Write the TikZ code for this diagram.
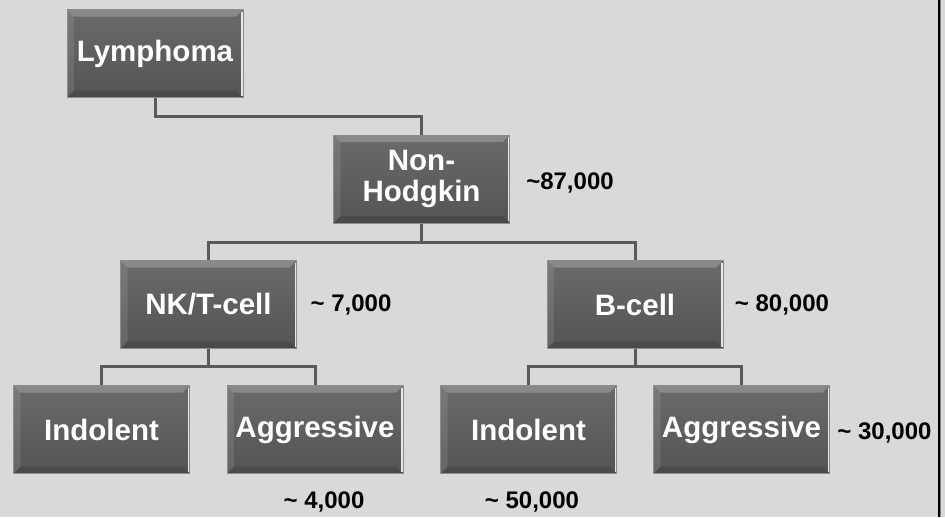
\documentclass[tikz,border=0pt]{standalone}
\usepackage{fontspec}
\setmainfont{Liberation Sans}
\definecolor{bg}{HTML}{D9D9D9}
\definecolor{boxtop}{HTML}{6A6A6A}
\definecolor{boxbot}{HTML}{545454}
\definecolor{boxedge}{HTML}{8C8C8C}
\definecolor{conn}{HTML}{5A5A5A}
\tikzset{
  box/.style={rectangle, minimum width=176pt, minimum height=88pt, inner sep=0pt,
    top color=boxtop, bottom color=boxbot, draw=boxedge, line width=1pt,
    text=white, font=\bfseries\fontsize{29.5}{31}\selectfont, align=center,
    path picture={
      \fill[white,opacity=0.22] (path picture bounding box.north west) -- (path picture bounding box.north east)
        -- ([xshift=-7pt,yshift=-7pt]path picture bounding box.north east) -- ([xshift=7pt,yshift=-7pt]path picture bounding box.north west) -- cycle;
      \fill[white,opacity=0.10] (path picture bounding box.north west) -- ([xshift=7pt,yshift=-7pt]path picture bounding box.north west)
        -- ([xshift=7pt,yshift=7pt]path picture bounding box.south west) -- (path picture bounding box.south west) -- cycle;
      \fill[black,opacity=0.12] (path picture bounding box.south west) -- ([xshift=7pt,yshift=7pt]path picture bounding box.south west)
        -- ([xshift=-7pt,yshift=7pt]path picture bounding box.south east) -- (path picture bounding box.south east) -- cycle;
      \draw[white,line width=1.6pt,opacity=0.85] ([xshift=-1pt,yshift=-2pt]path picture bounding box.north east) -- ([xshift=-1pt,yshift=2pt]path picture bounding box.south east);
    }},
  num/.style={font=\bfseries\fontsize{24}{26}\selectfont, text=black, inner sep=0pt},
  link/.style={draw=conn, line width=3pt}
}
\begin{document}
\begin{tikzpicture}[x=1pt,y=-1pt]
\fill[bg] (0,0) rectangle (945,517);
\useasboundingbox (0,0) rectangle (945,517);
\fill[black] (937.5,0) rectangle (940,517);
\fill[gray] (940,0) rectangle (941,517);

\node[box] (lym) at (155,53.5) {Lymphoma};
\node[box] (nh) at (421.5,179) {Non-\\Hodgkin};
\node[box] (nk) at (208.5,304.5) {NK/T-cell};
\node[box] (bc) at (635,304.5) {B-cell};
\node[box] (ind1) at (101.5,429.5) {Indolent};
\node[box] (agg1) at (315,429.5) {Aggressive};
\node[box] (ind2) at (528.5,429.5) {Indolent};
\node[box] (agg2) at (741.5,429.5) {Aggressive};

\node[num] (n87) at (570,183) {\textasciitilde87,000};
\node[num] (n7) at (351,305) {\textasciitilde\ 7,000};
\node[num] (n80) at (782,305) {\textasciitilde\ 80,000};
\node[num] (n4) at (324,502) {\textasciitilde\ 4,000};
\node[num] (n50) at (532,502) {\textasciitilde\ 50,000};
\node[num] (n30) at (884.5,433) {\textasciitilde\ 30,000};

\coordinate (j0) at (155,116);
\coordinate (j1) at (421.5,242);
\coordinate (j2) at (208.5,366);
\coordinate (j3) at (635,366);

\begin{scope}[on background layer/.style={}]
\draw[link] (lym.south) -- (j0) -| (nh.north);
\draw[link] (nh.south) -- (j1);
\draw[link] (nk.north) |- (j1) -| (bc.north);
\draw[link] (nk.south) -- (j2);
\draw[link] (ind1.north) |- (j2) -| (agg1.north);
\draw[link] (bc.south) -- (j3);
\draw[link] (ind2.north) |- (j3) -| (agg2.north);
\end{scope}
\end{tikzpicture}
\end{document}
